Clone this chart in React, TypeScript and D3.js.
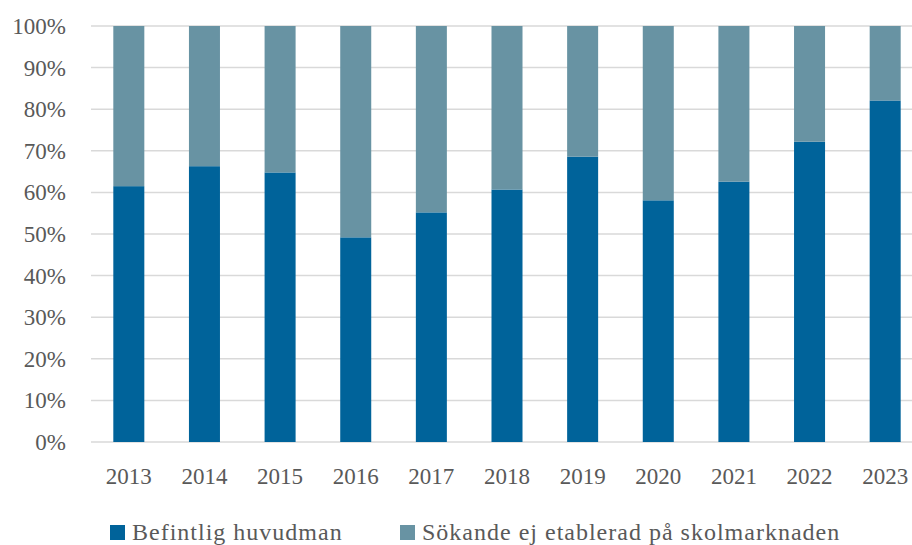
import React, { useEffect, useRef } from 'react';
import * as d3 from 'd3';

const years = ['2013', '2014', '2015', '2016', '2017', '2018', '2019', '2020', '2021', '2022', '2023'];
const befintlig = [61.5, 66.3, 64.8, 49.2, 55.2, 60.7, 68.6, 58.1, 62.6, 72.2, 82.1];
const sokande = befintlig.map(v => 100 - v);
const seriesNames = ['Befintlig huvudman', 'Sökande ej etablerad på skolmarknaden'];
const colors = ['#00639a', '#6893a3'];
const yTicks = [0, 10, 20, 30, 40, 50, 60, 70, 80, 90, 100];

const width = 912;
const height = 545;
const margins = { l: 91, t: 26, r: -11, b: 103 };

const App = () => {
  const container = useRef(null);

  useEffect(() => {
    const svg = d3.select(container.current);
    svg.selectAll('*').remove();
    const font = "'Liberation Serif', serif";

    const x = d3
      .scaleBand()
      .domain(years)
      .range([margins.l, width - margins.r])
      .paddingInner(0.59)
      .paddingOuter(0.295);

    const y = d3
      .scaleLinear()
      .domain([0, 100])
      .range([height - margins.b, margins.t]);

    svg
      .append('g')
      .selectAll('line')
      .data(yTicks)
      .join('line')
      .attr('x1', margins.l)
      .attr('x2', width)
      .attr('y1', d => y(d))
      .attr('y2', d => y(d))
      .attr('stroke', '#d9d9d9')
      .attr('stroke-width', 1.5);

    const rows = years.map((yr, i) => ({ year: yr, a: befintlig[i], b: sokande[i] }));
    const stacked = d3.stack().keys(['a', 'b'])(rows as any);

    svg
      .append('g')
      .selectAll('g')
      .data(stacked)
      .join('g')
      .attr('fill', (d, i) => colors[i])
      .selectAll('rect')
      .data(d => d)
      .join('rect')
      .attr('x', (d: any) => x(d.data.year))
      .attr('width', x.bandwidth())
      .attr('y', d => y(d[1]))
      .attr('height', d => y(d[0]) - y(d[1]));

    svg
      .append('g')
      .selectAll('text')
      .data(yTicks)
      .join('text')
      .attr('x', 66)
      .attr('y', d => y(d))
      .attr('dy', '0.35em')
      .attr('text-anchor', 'end')
      .attr('font-family', font)
      .attr('font-size', 23)
      .attr('fill', '#595959')
      .text(d => d + '%');

    svg
      .append('g')
      .selectAll('text')
      .data(years)
      .join('text')
      .attr('x', d => x(d) + x.bandwidth() / 2)
      .attr('y', 484)
      .attr('text-anchor', 'middle')
      .attr('font-family', font)
      .attr('font-size', 23)
      .attr('fill', '#595959')
      .text(d => d);

    const legendX = [110, 400];
    const legend = svg
      .append('g')
      .selectAll('g')
      .data(seriesNames)
      .join('g')
      .attr('transform', (d, i) => `translate(${legendX[i]}, 525)`);
    legend
      .append('rect')
      .attr('width', 15)
      .attr('height', 15)
      .attr('fill', (d, i) => colors[i]);
    legend
      .append('text')
      .attr('x', 22)
      .attr('y', 15)
      .attr('font-family', font)
      .attr('font-size', 24)
      .attr('letter-spacing', 1)
      .attr('fill', '#595959')
      .text(d => d);
  }, []);

  return (
    <svg
      ref={container}
      width={width}
      height={height}
      style={{ position: 'absolute', left: 0, top: 0 }}
    ></svg>
  );
};

export default App;
